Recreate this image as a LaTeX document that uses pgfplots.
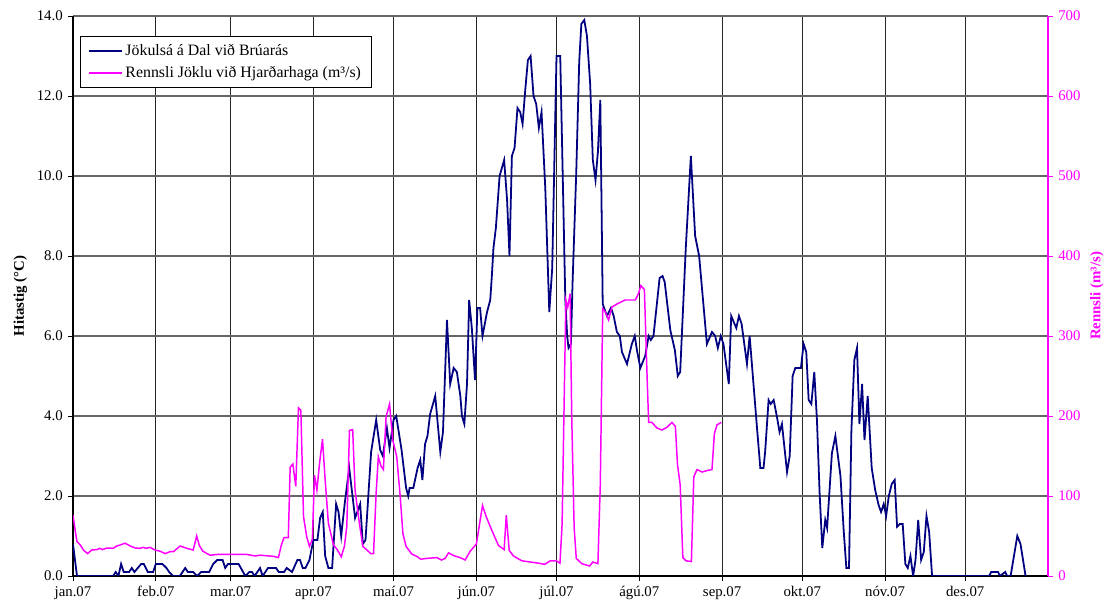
\documentclass[border=0pt]{standalone}
\usepackage{fontspec}
\setmainfont{Liberation Serif}
\usepackage{pgfplots}
\pgfplotsset{compat=1.18}
\usetikzlibrary{calc}
\definecolor{tblue}{RGB}{0,0,128}
\definecolor{tmag}{RGB}{255,0,255}
\newlength\px
\setlength\px{0.675pt}
\begin{document}
\begin{tikzpicture}
\begin{axis}[name=ax1,
  scale only axis, width=975\px, height=560\px,
  xmin=0, xmax=365, ymin=0, ymax=14,
  axis x line*=bottom, axis y line*=left,
  axis line style={black, line width=1.1pt},
  xtick={0,31,59,90,120,151,181,212,243,273,304,334},
  xticklabels={jan.07,feb.07,mar.07,apr.07,maí.07,jún.07,júl.07,ágú.07,sep.07,okt.07,nóv.07,des.07},
  ytick={0,2,...,14},
  yticklabel style={/pgf/number format/.cd, fixed, fixed zerofill, precision=1},
  /pgf/number format/assume math mode=true,
  tick align=outside, major tick length=5\px,
  tick style={black, line width=0.6pt},
  grid=major,
  x grid style={black!85, line width=0.6pt},
  y grid style={black!60, line width=0.7pt},
  ylabel={Hitastig (°C)},
  ylabel style={font=\bfseries, at={(axis description cs:-0.054,0.5)}, anchor=center},
  legend style={at={(axis description cs:0.0072,0.964)}, anchor=north west,
    draw=black, line width=0.6pt, row sep=2pt, inner xsep=5pt, inner ysep=3pt,
    cells={anchor=west}, font=\fontsize{10.7}{13}\selectfont},
  legend image code/.code={\draw[#1] (0cm,0cm) -- (0.78cm,0cm);},
]
\addplot[tblue, line width=1.2pt] coordinates {
(0,0.8) (1.5,0.0) (15,0) (16,0.1) (17,0) (18,0.3) (19,0.1) (21,0.1) (22,0.2) (23,0.1)
(25.5,0.3) (26.5,0.3) (28,0.1) (30,0.1) (31,0.3) (33.5,0.3) (35,0.2) (36,0.1) (37.5,0) (40,0)
(42,0.2) (43,0.1) (45,0.1) (46.5,0) (48,0.1) (51,0.1) (52.5,0.3) (54,0.4) (56,0.4) (57,0.2)
(58,0.3) (62,0.3) (64.5,0) (66,0.1) (67,0.1) (68,0) (70,0.2) (71,0) (73,0.2) (76,0.2)
(77,0.1) (79,0.1) (80,0.2) (82,0.1) (84,0.4) (85,0.4) (86,0.2) (87,0.2) (88.5,0.4) (90,0.9)
(91.5,0.9) (92.5,1.45) (93.5,1.6) (94.4,0.5) (95.6,0.2) (97,0.2) (98.5,1.8) (99.4,1.6) (100.4,1.0) (101.7,1.8)
(103.4,2.7) (105.6,1.45) (107.5,1.8) (108.5,0.8) (109.5,0.9) (111.6,3.1) (113.5,3.9) (115,3.15) (116,3.0) (117.5,3.7)
(118.5,3.2) (120,3.9) (121,4.0) (123,3.15) (124.7,2.2) (125.5,2.0) (126,2.2) (127.4,2.2) (129,2.7) (130,2.9)
(130.8,2.4) (131.8,3.3) (132.7,3.5) (133.7,4.05) (135.6,4.5) (137.5,3.1) (138.5,3.6) (140,6.4) (141.2,4.8) (142.5,5.2)
(143.7,5.1) (145,4.5) (145.6,4.0) (146.5,3.8) (147.5,4.8) (148.3,6.9) (149.3,6.2) (150.5,4.9) (151.4,6.7) (152.4,6.7)
(153.3,6.0) (155,6.6) (156.2,6.9) (156.8,7.5) (157.4,8.2) (158.3,8.7) (159.7,10.0) (161.4,10.4) (162.5,9.4) (163.4,8.0)
(164.3,10.5) (165.3,10.7) (166.4,11.7) (167.4,11.6) (168.3,11.3) (169.3,12.15) (170.3,12.9) (171.3,13.0) (172.4,12.0) (173.4,11.8)
(174.4,11.2) (175.4,11.6) (176.8,9.7) (178.3,6.6) (179.4,7.7) (181,13.0) (182.4,13.0) (184.3,6.9) (185,6.0) (185.5,5.7)
(186.4,5.8) (187,7.3) (188.4,10.1) (189.5,12.85) (190.3,13.8) (191.4,13.9) (192.4,13.5) (193.6,12.3) (194.6,10.4) (195.6,9.9)
(196.5,10.6) (197.4,11.9) (198.3,6.8) (199.9,6.5) (201.4,6.7) (202.4,6.5) (203.6,6.1) (204.7,6.0) (205.5,5.6) (207.4,5.3)
(209.2,5.8) (210.3,6.0) (211.1,5.65) (212.4,5.2) (214.2,5.5) (215.5,6.0) (216.3,5.9) (217.3,6.0) (219.6,7.45) (220.7,7.5)
(221.5,7.35) (223.6,6.15) (225.3,5.65) (226.4,5.0) (227.3,5.1) (229.4,8.2) (231.3,10.5) (232.9,8.5) (234.4,8.0) (237.3,5.8)
(239.2,6.1) (240.4,6.0) (241.4,5.7) (242.5,6.0) (243.5,5.8) (245.5,4.8) (246.4,6.5) (248.3,6.2) (249.3,6.5) (250.3,6.3)
(252.3,5.3) (253.3,6.0) (256,3.75) (257.3,2.7) (258.5,2.7) (259.1,3.1) (260.4,4.4) (261.2,4.3) (262.3,4.4) (263.6,3.95)
(264.5,3.6) (265.4,3.8) (267.3,2.6) (268.3,3.0) (269.4,5.0) (270.4,5.2) (272.5,5.2) (273.5,5.8) (274.5,5.6) (275.4,4.4)
(276.4,4.3) (277.5,5.1) (278.5,3.9) (279.5,2.07) (280.5,0.7) (281.6,1.4) (282.3,1.2) (284.1,3.07) (285.4,3.5) (287.3,2.5)
(288.5,1.15) (289.5,0.2) (290.5,0.2) (291.4,3.65) (292.5,5.4) (293.5,5.7) (294.4,3.8) (295.4,4.8) (296.3,3.4) (297.5,4.5)
(299,2.7) (300.3,2.15) (301.6,1.77) (302.5,1.6) (303.5,1.8) (304.4,1.5) (305.4,2.0) (306.5,2.3) (307.6,2.4) (308.5,1.23)
(309.5,1.3) (310.6,1.3) (311.6,0.3) (312.5,0.2) (313.5,0.5) (314.5,0) (315.4,0.4) (316.4,1.4) (317.5,0.4) (318.5,0.6)
(319.5,1.5) (320.5,1.1) (321.6,0) (343,0) (343.7,0.1) (346.3,0.1) (347,0) (349,0.1) (349.7,0) (351,0)
(353.5,1.0) (354.7,0.8) (356.6,0)
};
\addlegendentry{Jökulsá á Dal við Brúarás}
\addlegendimage{tmag, line width=1pt}
\addlegendentry{Rennsli Jöklu við Hjarðarhaga (m³/s)}
\end{axis}
\begin{axis}[
  scale only axis, width=975\px, height=560\px,
  xmin=0, xmax=365, ymin=0, ymax=700,
  axis x line=none, axis y line*=right,
  y axis line style={tmag, line width=1pt},
  ytick={0,100,...,700},
  /pgf/number format/assume math mode=true,
  tick align=outside, major tick length=5\px,
  ytick style={tmag, line width=0.6pt},
  yticklabel style={tmag},
  ylabel={Rennsli (m³/s)},
  ylabel style={tmag, font=\bfseries, at={(axis description cs:1.05,0.5)}, anchor=center},
]
\addplot[tmag, line width=1pt] coordinates {
(0,76) (1,53) (1.5,43) (2.7,39) (4,32) (5.5,28) (7,32.5) (9,33) (10,34.6) (11,33)
(12.7,35) (15,34.6) (16.4,37.5) (17.6,38.7) (19.5,41) (21.4,37.5) (23.3,35) (25,34.6) (26.3,35.8) (27.3,34.6)
(28.8,35.8) (30.7,32.5) (32.6,31) (34.5,28) (36.3,30.4) (37.6,30.4) (40.1,37.5) (42.6,34.6) (45,32.5) (46.3,50)
(47.3,38) (48.6,31) (51.3,26) (54.4,27) (57.5,27) (62.5,27) (65,27) (68.2,25) (70,26) (75,24.6)
(76.9,23) (78,38.7) (79,48) (80.6,48) (81.3,136) (82.3,140) (83.4,112) (84.4,210) (85.3,207) (86.3,74)
(87.5,49) (88.5,37) (89.6,46) (90.4,126) (91.3,107.5) (92.3,141) (93.4,171) (94.4,120) (95.6,66) (97.5,39)
(99,32.5) (100.4,24) (101.6,37) (102.5,62) (103.5,182) (104.7,183) (105.6,107) (107.2,66) (108.5,37) (110,32.5)
(111.5,28) (112.5,28) (113.5,105) (114.3,149) (115.3,137.5) (116.2,133) (117.2,199) (118.5,215) (119.7,170) (121.2,149)
(122.5,99) (123.5,53) (124.7,37) (126.8,27.5) (128.7,24.5) (130.2,21) (132.4,22) (136.2,23) (138,20) (139.3,22)
(140.6,29) (142.4,25.6) (144.9,23) (146.8,20) (148.7,31) (151,40) (153.3,88) (154.7,74) (156.8,57) (159.3,38)
(161.4,33) (162.2,76) (163.3,32) (164.9,25) (168,19) (171.2,17.5) (174.3,16) (176.6,14.6) (178.7,19) (180.9,19)
(182.3,16) (183.1,65) (184.5,345) (185.2,336) (186.1,353) (186.7,199) (187.6,61) (188.4,22) (190.5,15.4) (193.4,12.5)
(194.6,17.5) (196.5,15.4) (197.4,115) (198.3,334) (199.3,330) (200.5,320) (201.7,336) (203.6,340) (206.7,345) (210.5,345)
(211.7,353) (212.6,363) (213.9,358) (215,240) (215.5,192) (216.7,192) (218.6,185) (220.5,182.5) (222.4,186) (224.2,192)
(225.5,187) (226.3,139) (227.3,114) (228.3,23) (229.5,19) (231.5,18) (232.4,124) (233.6,133) (235.5,130) (237.6,132)
(239.2,133) (240.1,178) (241.1,189) (242.7,192)
};
\end{axis}
\pgfresetboundingbox
\path ($(ax1.south west)+(-73\px,-34\px)$) rectangle ($(ax1.north east)+(59\px,16\px)$);
\end{tikzpicture}
\end{document}
